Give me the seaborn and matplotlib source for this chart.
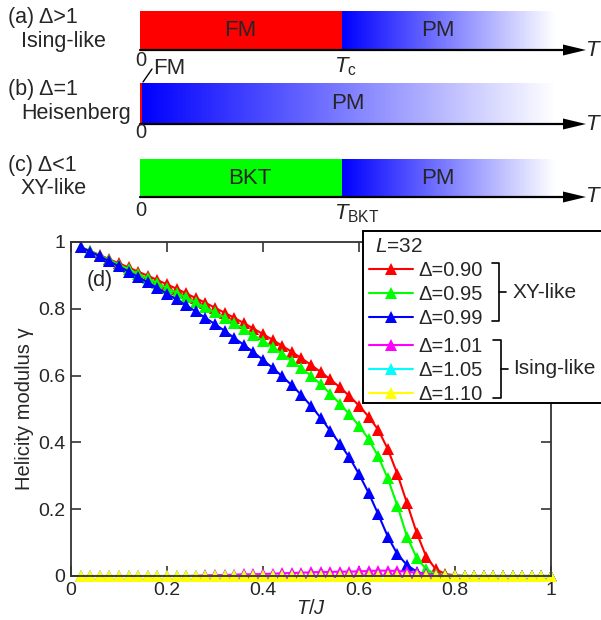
import numpy as np
import pandas as pd
import matplotlib
matplotlib.use("Agg")
import matplotlib.pyplot as plt
import seaborn as sns
from matplotlib.patches import Rectangle, Polygon
from matplotlib.ticker import FuncFormatter, MultipleLocator

sns.set_style("ticks")
plt.rcParams["font.family"] = ["Liberation Sans", "DejaVu Sans"]
plt.rcParams["mathtext.fontset"] = "custom"
plt.rcParams["mathtext.it"] = "Liberation Sans:italic"
plt.rcParams["mathtext.rm"] = "Liberation Sans"
plt.rcParams["mathtext.sf"] = "Liberation Sans"

# ---- data (d): helicity modulus, L=32 ----
temps = np.round(np.arange(1, 51) * 0.02, 2)
deltas = ["0.90", "0.95", "0.99", "1.01", "1.05", "1.10"]
colors = ["#ff0000", "#00ff00", "#0000ff", "#ff00ff", "#00ffff", "#ffff00"]

gamma_090 = [0.985, 0.973, 0.961, 0.948, 0.936, 0.924, 0.911, 0.899, 0.886, 0.873,
             0.860, 0.846, 0.832, 0.818, 0.803, 0.788, 0.773, 0.757, 0.741, 0.724,
             0.707, 0.689, 0.671, 0.652, 0.632, 0.611, 0.589, 0.565, 0.539, 0.510,
             0.477, 0.438, 0.380, 0.305, 0.218, 0.130, 0.058, 0.020, 0.006, 0.002,
             0, 0, 0, 0, 0, 0, 0, 0, 0, 0]
gamma_095 = [0.985, 0.972, 0.959, 0.946, 0.932, 0.919, 0.905, 0.891, 0.877, 0.862,
             0.848, 0.834, 0.819, 0.804, 0.789, 0.773, 0.757, 0.740, 0.722, 0.704,
             0.685, 0.665, 0.644, 0.622, 0.600, 0.574, 0.546, 0.516, 0.484, 0.450,
             0.410, 0.358, 0.292, 0.210, 0.118, 0.055, 0.020, 0.006, 0.002, 0.001,
             0, 0, 0, 0, 0, 0, 0, 0, 0, 0]
gamma_099 = [0.985, 0.971, 0.957, 0.942, 0.927, 0.911, 0.895, 0.879, 0.862, 0.845,
             0.828, 0.810, 0.792, 0.773, 0.754, 0.734, 0.713, 0.692, 0.670, 0.647,
             0.623, 0.598, 0.571, 0.542, 0.509, 0.474, 0.435, 0.396, 0.355, 0.305,
             0.249, 0.185, 0.118, 0.065, 0.033, 0.013, 0.004, 0.001, 0, 0,
             0, 0, 0, 0, 0, 0, 0, 0, 0, 0]
gamma_101 = [0, 0, 0, 0, 0, 0, 0, 0, 0, 0,
             0, 0, 0.001, 0.002, 0.003, 0.003, 0.004, 0.005, 0.005, 0.006,
             0.007, 0.008, 0.009, 0.010, 0.011, 0.012, 0.012, 0.013, 0.013, 0.014,
             0.015, 0.016, 0.016, 0.015, 0.013, 0.010, 0.006, 0.003, 0.001, 0,
             0, 0, 0, 0, 0, 0, 0, 0, 0, 0]
gamma_105 = [0] * 50
gamma_110 = [0] * 50

# ---- schematic phase diagrams (a)-(c) ----
row_tags = ["(a) Δ>1", "(b) Δ=1", "(c) Δ<1"]
row_names = ["Ising-like", "Heisenberg", "XY-like"]
low_phase = ["FM", "", "BKT"]
low_colors = ["#ff0000", "#ff0000", "#00ff00"]
t_boundary = [0.487, 0.006, 0.487]          # fraction of the bar length
boundary_labels = ["$T_\\mathrm{c}$", "", "$T_\\mathrm{BKT}$"]

df = pd.DataFrame({
    "T": np.tile(temps, len(deltas)),
    "gamma": np.concatenate([gamma_090, gamma_095, gamma_099,
                             gamma_101, gamma_105, gamma_110]),
    "delta": np.repeat(deltas, len(temps)),
})

fig = plt.figure(figsize=(6.01, 6.20), dpi=100)
ax = fig.add_axes([71 / 601, 44 / 620, 480 / 601, 334 / 620])

sns.lineplot(data=df, x="T", y="gamma", hue="delta", hue_order=deltas,
             palette=colors, marker="^", markersize=8.5, markeredgewidth=0,
             linewidth=1.5, errorbar=None, clip_on=False, legend=False, ax=ax)

ax.set_xlim(0, 1)
ax.set_ylim(0, 1)
fmt = FuncFormatter(lambda v, p: f"{v:g}")
ax.xaxis.set_major_locator(MultipleLocator(0.2))
ax.yaxis.set_major_locator(MultipleLocator(0.2))
ax.xaxis.set_major_formatter(fmt)
ax.yaxis.set_major_formatter(fmt)
ax.tick_params(direction="in", length=7, width=1.2, color="#333333",
               top=True, right=True, labelsize=14, pad=4)
for sp in ax.spines.values():
    sp.set_linewidth(1.3)
    sp.set_color("#333333")
ax.set_xlabel("$T/J$", fontsize=14.5, labelpad=0)
ax.set_ylabel("Helicity modulus γ", fontsize=14.5, labelpad=3)
ax.text(0.06, 0.886, "(d)", transform=ax.transAxes, fontsize=15.5,
        ha="center", va="center")

# overlay in pixel coordinates for the schematic and the legend box
ov = fig.add_axes([0, 0, 1, 1], zorder=10)
ov.set_xlim(0, 601)
ov.set_ylim(620, 0)
ov.axis("off")

x0, x1 = 140, 555
bar_tops = [11, 83, 159]
bar_bottoms = [50, 124, 197]
zero_y = [60, 133, 210]
tag_y = [18, 90, 165]
name_y = [42, 113, 188]
pm_x = [438, 348, 438]
low_x = [240, 0, 250]

ramp = np.linspace(0, 1, 256)
grad = np.stack([ramp, ramp, np.ones_like(ramp)], axis=-1)[None, :, :]

for i in range(3):
    top, bot = bar_tops[i], bar_bottoms[i]
    xb = x0 + t_boundary[i] * (x1 - x0)
    ov.add_patch(Rectangle((x0, top), xb - x0, bot - top,
                           facecolor=low_colors[i], edgecolor="none"))
    ov.imshow(grad, extent=(xb, x1, bot, top), aspect="auto",
              interpolation="bilinear", zorder=1)
    ov.plot([x0, 566], [bot, bot], color="black", lw=1.6, zorder=3)
    ov.add_patch(Polygon([(563, bot - 5.5), (586, bot), (563, bot + 5.5)],
                         closed=True, facecolor="black", edgecolor="none",
                         zorder=3))
    ov.text(586, bot, "T", fontsize=16, style="italic", ha="left",
            va="center")
    ov.text(141, zero_y[i], "0", fontsize=14.5, ha="center", va="center")
    ov.text(8, tag_y[i], row_tags[i], fontsize=15.5, ha="left", va="center")
    ov.text(21, name_y[i], row_names[i], fontsize=15.5, ha="left",
            va="center")
    ov.text(pm_x[i], (top + bot) / 2, "PM", fontsize=16, ha="center",
            va="center")
    if low_phase[i]:
        ov.text(low_x[i], (top + bot) / 2, low_phase[i], fontsize=16,
                ha="center", va="center")
    if boundary_labels[i]:
        ov.text(xb - 8, bot + 17, boundary_labels[i], fontsize=16,
                ha="left", va="center")

# tiny FM region at Delta=1
ov.plot([143, 152], [82, 69], color="black", lw=1)
ov.text(153, 68, "FM", fontsize=16, ha="left", va="center")

# legend box with grouped entries
ov.add_patch(Rectangle((363, 231), 270, 172, facecolor="white",
                       edgecolor="black", lw=1.4, zorder=2))
ov.text(375, 247, "$L$=32", fontsize=15, ha="left", va="center", zorder=4)
lines = ax.get_lines()
labels = [f"Δ={d}" for d in deltas]
leg_kw = dict(loc="upper left", bbox_transform=ov.transData, frameon=False,
              fontsize=14.5, handlelength=2.2, handletextpad=0.25,
              labelspacing=0.24, borderpad=0, borderaxespad=0)
leg1 = ov.legend(lines[:3], labels[:3], bbox_to_anchor=(369, 261), **leg_kw)
ov.add_artist(leg1)
leg2 = ov.legend(lines[3:], labels[3:], bbox_to_anchor=(369, 337), **leg_kw)
leg1.set_zorder(5)
leg2.set_zorder(5)

ov.plot([492, 499, 499, 492], [263, 263, 321, 321], color="black", lw=1.2,
        zorder=4)
ov.plot([499, 506], [292, 292], color="black", lw=1.2, zorder=4)
ov.text(513, 292, "XY-like", fontsize=15, ha="left", va="center", zorder=4)
ov.plot([493, 501, 501, 493], [340, 340, 398, 398], color="black", lw=1.2,
        zorder=4)
ov.plot([501, 508], [369, 369], color="black", lw=1.2, zorder=4)
ov.text(513, 369, "Ising-like", fontsize=15, ha="left", va="center",
        zorder=4)

fig.savefig("out.png", dpi=100)
